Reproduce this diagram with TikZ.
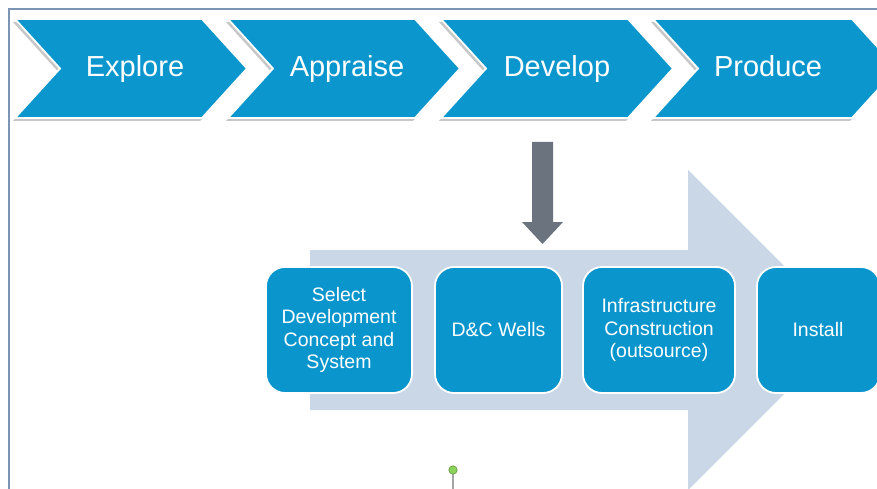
\documentclass[tikz,border=0pt]{standalone}
\usepackage{fontspec}
\setmainfont{Liberation Sans}
\definecolor{chev}{HTML}{0B96CE}
\definecolor{boxblue}{HTML}{0B95CD}
\definecolor{bigarr}{HTML}{C9D7E7}
\definecolor{grayarr}{HTML}{6B737E}
\definecolor{frame}{HTML}{7D95B5}
\definecolor{pin}{HTML}{8BD35A}
\tikzset{
  chevshadow/.style={fill=black!22},
  chevfill/.style={fill=chev, draw=white, line width=1.8pt, line join=miter},
  chevlabel/.style={text=white, font=\fontsize{29}{34}\selectfont, inner sep=0pt, anchor=base},
  stepbox/.style={rounded corners=19pt, fill=boxblue, draw=white, line width=1.8pt},
  boxlabel/.style={text=white, align=center, font=\fontsize{19.5}{22.5}\selectfont, inner sep=0pt},
}
\begin{document}
\begin{tikzpicture}[x=1pt,y=-1pt]
\useasboundingbox (0,0) rectangle (877,489);
\fill[white] (0,0) rectangle (877,489);
\begin{scope}
\clip (0,0) rectangle (877,489);
% frame
\draw[frame, line width=1.6pt] (9,489) -- (9,9) -- (877,9);
% chevrons
\foreach \xl/\xr in {15/202, 228/415, 441/628, 653/852}{
  \fill[chevshadow] ({\xl-2},{19+3}) -- ({\xr-2},{19+3}) -- ({\xr+45-2},{68.5+3}) -- ({\xr-2},{118+3}) -- ({\xl-2},{118+3}) -- ({\xl+45-2},{68.5+3}) -- cycle;
  \filldraw[chevfill] (\xl,19) -- (\xr,19) -- ({\xr+45},68.5) -- (\xr,118) -- (\xl,118) -- ({\xl+45},68.5) -- cycle;
}
\node[chevlabel] (explore) at (135,77) {Explore};
\node[chevlabel] (appraise) at (347,77) {Appraise};
\node[chevlabel] (develop) at (557,77) {Develop};
\node[chevlabel] (produce) at (768,77) {Produce};
% big light arrow
\fill[bigarr] (310,250) -- (688,250) -- (688,170) -- (848,330) -- (688,490) -- (688,410) -- (310,410) -- cycle;
% gray down arrow
\fill[grayarr] (532,142) -- (553,142) -- (553,222) -- (563,222) -- (542.5,244) -- (522,222) -- (532,222) -- cycle;
% boxes
\filldraw[stepbox] (266,267) rectangle (412,393);
\filldraw[stepbox] (435,267) rectangle (562,393);
\filldraw[stepbox] (583,267) rectangle (735,393);
\filldraw[stepbox] (757,267) rectangle (880,393);
\node[boxlabel] (select) at (339,330) {Select\\Development\\Concept and\\System};
\node[boxlabel] (wells) at (498.5,330) {D\&C Wells};
\node[boxlabel] (infra) at (659,330) {Infrastructure\\Construction\\(outsource)};
\node[boxlabel] (install) at (818,330) {Install};
% green pin
\draw[black!35, line width=1.2pt] (453,474) -- (453,489);
\filldraw[fill=pin, draw=pin!70!black, line width=0.6pt] (453,470) circle (4.2);
\end{scope}
\end{tikzpicture}
\end{document}
